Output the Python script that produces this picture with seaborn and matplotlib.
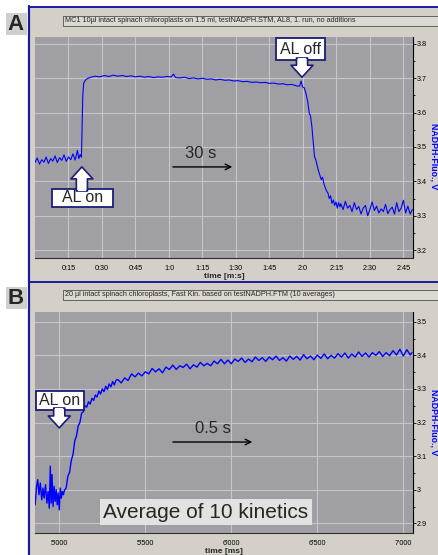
import matplotlib
matplotlib.use('Agg')
import matplotlib.pyplot as plt
from matplotlib.patches import Rectangle
from matplotlib.lines import Line2D
from matplotlib.ticker import MultipleLocator
import seaborn as sns

# -> DATA

# Panel A: slow kinetics, time in s, NADPH fluorescence in V
time_a = [0, 1, 2, 3, 4, 5, 6, 7, 8, 9, 10, 11, 12, 13, 14, 15, 16, 17, 18, 19, 19.6, 20.2, 20.8,
          21.1, 21.4, 21.8, 22.5, 23.5,
          25, 27, 29, 31, 33, 35, 37, 39, 41, 43, 45, 47, 49, 51, 53, 55, 57, 59, 61, 62, 63,
          65, 67, 69, 71, 73, 75, 77, 79, 81, 83, 85, 87, 89, 91, 93, 95, 97, 99, 101, 103,
          105, 107, 109, 111, 113, 115, 117, 118.5, 119.2, 119.8, 120.6,
          121.4, 122.2, 122.8, 123.4, 124, 124.6, 125.2, 125.8, 126.4, 127, 127.6, 128.2, 128.8,
          129.4, 130, 130.6, 131.2, 131.8, 132.4, 133, 133.6, 134.2, 134.8, 135.4, 136, 136.6,
          137, 138, 139, 140, 141, 142, 143, 144, 145, 146, 147, 148, 149, 150, 151, 152, 153,
          154, 155, 156, 157, 158, 159, 160, 161, 162, 163, 164, 165, 166, 167, 168, 169]
fluo_a = [3.455, 3.468, 3.450, 3.463, 3.456, 3.471, 3.452, 3.466, 3.459, 3.474, 3.455, 3.469,
          3.461, 3.477, 3.458, 3.471, 3.463, 3.480, 3.462, 3.490, 3.466, 3.478, 3.470,
          3.560, 3.650, 3.685, 3.694, 3.699,
          3.703, 3.706, 3.704, 3.708, 3.705, 3.709, 3.706, 3.708, 3.705, 3.707, 3.704, 3.706,
          3.703, 3.705, 3.702, 3.704, 3.703, 3.705, 3.704, 3.712, 3.702,
          3.701, 3.703, 3.699, 3.701, 3.698, 3.700, 3.697, 3.698, 3.695, 3.697, 3.694, 3.695,
          3.692, 3.693, 3.690, 3.691, 3.688, 3.689, 3.687, 3.688,
          3.685, 3.686, 3.683, 3.684, 3.681, 3.682, 3.678, 3.677, 3.692, 3.675, 3.672,
          3.655, 3.630, 3.600, 3.590, 3.560, 3.515, 3.472, 3.462, 3.445, 3.430, 3.418, 3.405,
          3.412, 3.393, 3.382, 3.372, 3.366, 3.350, 3.358, 3.336, 3.346, 3.330, 3.340, 3.322,
          3.338, 3.326,
          3.335, 3.318, 3.342, 3.322, 3.330, 3.312, 3.338, 3.318, 3.327, 3.305, 3.322, 3.330,
          3.300, 3.318, 3.340, 3.315, 3.328, 3.308, 3.320, 3.312, 3.333, 3.306, 3.318, 3.325,
          3.305, 3.338, 3.312, 3.322, 3.345, 3.308, 3.328, 3.305, 3.318]

# Panel B: fast kinetics (average of 10), time in ms
time_b = [4860, 4868, 4875, 4882, 4890, 4898, 4905, 4912, 4920, 4928, 4935, 4942, 4948, 4953,
          4958, 4964, 4970, 4976, 4982, 4988, 4994, 5000, 5006, 5012, 5018, 5024,
          5030, 5040, 5050, 5060, 5070, 5080, 5090, 5100, 5110, 5120, 5130, 5140, 5150, 5160,
          5170, 5180, 5190, 5200, 5210, 5220, 5230, 5240, 5250, 5260, 5270, 5280, 5290, 5300,
          5310, 5320, 5330,
          5340, 5360, 5380, 5400, 5420, 5440, 5460, 5480, 5500, 5520, 5540, 5560, 5580, 5600,
          5620, 5640, 5660, 5680, 5700, 5720, 5740, 5760, 5780, 5800, 5820, 5840, 5860, 5880,
          5900, 5920, 5940, 5960, 5980, 6000, 6020, 6040, 6060, 6080, 6100, 6120, 6140, 6160,
          6180, 6200, 6220, 6240, 6260, 6280, 6300, 6320, 6340, 6360, 6380, 6400, 6420, 6440,
          6460, 6480, 6500, 6520, 6540, 6560, 6580, 6600, 6620, 6640, 6660, 6680, 6700, 6720,
          6740, 6760, 6780, 6800, 6820, 6840, 6860, 6880, 6900, 6920, 6940, 6960, 6980, 7000,
          7020, 7040, 7050]
fluo_b = [2.955, 3.010, 3.030, 2.985, 3.020, 2.970, 3.005, 2.975, 3.015, 2.960, 2.995, 2.945,
          3.070, 2.960, 3.045, 2.950, 3.010, 2.965, 3.000, 2.955, 2.990, 2.940, 3.005, 2.975,
          2.995, 2.985,
          2.998, 3.005, 3.040, 3.052, 3.088, 3.105, 3.145, 3.160, 3.190, 3.200, 3.228, 3.232,
          3.250, 3.246, 3.262, 3.255, 3.272, 3.266, 3.282, 3.276, 3.294, 3.285, 3.300, 3.292,
          3.308, 3.298, 3.315, 3.306, 3.322, 3.312, 3.326,
          3.328, 3.318, 3.333, 3.325, 3.345, 3.336, 3.347, 3.339, 3.351, 3.345, 3.361, 3.351,
          3.360, 3.348, 3.365, 3.358, 3.371, 3.358, 3.369, 3.364, 3.374, 3.360, 3.372, 3.365,
          3.379, 3.369, 3.376, 3.369, 3.383, 3.375, 3.388, 3.375, 3.386, 3.375, 3.389, 3.382,
          3.392, 3.379, 3.389, 3.381, 3.395, 3.385, 3.393, 3.382, 3.395, 3.387, 3.398, 3.385,
          3.393, 3.383, 3.398, 3.388, 3.397, 3.386, 3.402, 3.390, 3.398, 3.387, 3.401, 3.391,
          3.404, 3.390, 3.400, 3.392, 3.405, 3.395, 3.407, 3.392, 3.404, 3.395, 3.410, 3.397,
          3.407, 3.395, 3.408, 3.400, 3.411, 3.397, 3.408, 3.399, 3.414, 3.401, 3.418, 3.398,
          3.417, 3.401, 3.408]

# tick labels
ticks_a = [15, 30, 45, 60, 75, 90, 105, 120, 135, 150, 165]
ticklabels_a = ['0:15', '0:30', '0:45', '1:0', '1:15', '1:30', '1:45', '2:0', '2:15', '2:30', '2:45']
yticks_a = [3.2, 3.3, 3.4, 3.5, 3.6, 3.7, 3.8]
yticklabels_a = ['3.2', '3.3', '3.4', '3.5', '3.6', '3.7', '3.8']
ticks_b = [5000, 5500, 6000, 6500, 7000]
ticklabels_b = ["5'000", "5'500", "6'000", "6'500", "7'000"]
yticks_b = [2.9, 3.0, 3.1, 3.2, 3.3, 3.4, 3.5]
yticklabels_b = ['2.9', '3', '3.1', '3.2', '3.3', '3.4', '3.5']

title_a = 'MC1 10µl intact spinach chloroplasts on 1.5 ml, testNADPH.STM, AL8, 1. run, no additions'
title_b = '20 µl intact spinach chloroplasts, Fast Kin. based on testNADPH.FTM (10 averages)'

# -> FIGURE

W, H = 439, 555
sns.set_style('white')
plt.rcParams['font.family'] = ['Liberation Sans', 'DejaVu Sans']

fig = plt.figure(figsize=(W / 100, H / 100), dpi=100)
fig.patch.set_facecolor('#d4d0c8')

NAVY = '#1a1a9a'
EDGE = '#1c1c78'


def fbox(x, y, w, h):
    # pixel box (top-left origin) -> figure fraction (left, bottom, width, height)
    return (x / W, 1 - (y + h) / H, w / W, h / H)


def rect(x, y, w, h, **kw):
    l, b, ww, hh = fbox(x, y, w, h)
    fig.add_artist(Rectangle((l, b), ww, hh, transform=fig.transFigure, **kw))


def hline(x0, x1, y, **kw):
    fig.add_artist(Line2D([x0 / W, x1 / W], [1 - y / H, 1 - y / H], transform=fig.transFigure, **kw))


# white margins, window frame
rect(0, 0, 28, H, fc='white', ec='none')
rect(0, 0, W, 6, fc='white', ec='none')
fig.add_artist(Line2D([29 / W, 29 / W], [0, 1 - 6 / H], transform=fig.transFigure, color=NAVY, lw=1.6))
hline(29, W, 7, color=NAVY, lw=1.4)
hline(29, W, 282, color=NAVY, lw=1.4)

# panel letters
for letter, ytop in [('A', 13), ('B', 287)]:
    rect(6, ytop, 21, 22, fc='#cfcfcf', ec='none')
    fig.text(16 / W, 1 - (ytop + 11) / H, letter, fontsize=16, fontweight='bold',
             ha='center', va='center')

# title boxes
for title, ytop in [(title_a, 16), (title_b, 290)]:
    rect(63, ytop, 380, 10, fc='#dcd9d2', ec='#505050', lw=0.6)
    fig.text(65 / W, 1 - (ytop + 5) / H, title, fontsize=5.2, va='center', ha='left')


def style_panel(ax, xlim, ylim, xt, xtl, xminor, yt, ytl, xlabel, ylab_y):
    ax.set_facecolor('#a0a0a4')
    ax.set_xlim(*xlim)
    ax.set_ylim(*ylim)
    ax.set_xticks(xt)
    ax.set_xticklabels(xtl)
    ax.xaxis.set_minor_locator(MultipleLocator(xminor))
    ax.set_yticks(yt)
    ax.set_yticklabels(ytl)
    ax.yaxis.set_minor_locator(MultipleLocator(0.05))
    ax.yaxis.tick_right()
    for s in ['left', 'top']:
        ax.spines[s].set_visible(False)
    ax.spines['right'].set_color('black')
    ax.spines['right'].set_linewidth(0.8)
    ax.spines['bottom'].set_color('#303030')
    ax.spines['bottom'].set_linewidth(0.8)
    ax.grid(True, which='major', color='#c6c6ca', lw=0.8)
    ax.tick_params(which='both', direction='out', colors='black', labelsize=5.2,
                   length=3, width=0.6, pad=2)
    ax.tick_params(axis='y', which='both', length=2, pad=1)
    ax.tick_params(which='minor', length=1.6)
    ax.set_xlabel(xlabel, fontsize=6, fontweight='bold', labelpad=1)
    ax.set_ylabel('NADPH-Fluo., V', color='blue', fontsize=6.3, fontweight='bold',
                  rotation=-90, va='center', ha='center')
    ax.yaxis.set_label_coords((433.5 - 35) / 378, ylab_y)


def ffrac(x, y):
    return (x / W, 1 - y / H)


def callout(ax, label, t, v, box, up):
    # white label box with a hollow arrow pointing at (t, v)
    x0, y0, x1, y1 = box
    X, Y = ax.transData.transform((t, v))
    ax.add_patch(Rectangle(ffrac(x0, y1), (x1 - x0) / W, (y1 - y0) / H, transform=fig.transFigure,
                           fc='white', ec=EDGE, lw=1.3, zorder=4, clip_on=False))
    edge = y0 if up else y1
    base = edge + 2 if up else edge - 2
    ax.annotate('', xy=(t, v), xytext=(X / W, 1 - base / H), textcoords='figure fraction',
                arrowprops=dict(arrowstyle='simple,head_length=0.86,head_width=1.58,tail_width=0.8',
                                fc='white', ec=EDGE, lw=1.2, mutation_scale=10,
                                shrinkA=0, shrinkB=0), zorder=5)
    ax.add_patch(Rectangle(ffrac(X - 4.2, edge + 2.2), 8.4 / W, 4.4 / H, transform=fig.transFigure,
                           fc='white', ec='none', zorder=6, clip_on=False))
    ax.text((x0 + x1) / 2 / W, 1 - (y0 + y1) / 2 / H, label, transform=fig.transFigure,
            fontsize=11.5, ha='center', va='center', zorder=7)


# Panel A
ax_a = fig.add_axes(fbox(35, 37, 378, 221))
sns.lineplot(x=time_a, y=fluo_a, ax=ax_a, color='#0000ff', lw=0.8, estimator=None, sort=False)
style_panel(ax_a, (0, 169.3), (3.177, 3.82), ticks_a, ticklabels_a, 3, yticks_a, yticklabels_a,
            'time [m:s]', 0.46)
callout(ax_a, 'AL on', 21.0, 3.442, (52, 189, 113, 207), True)
callout(ax_a, 'AL off', 119.6, 3.703, (276, 38, 325, 60), False)
ax_a.text(74, 3.48, '30 s', fontsize=12, ha='center', va='center')
ax_a.annotate('', xy=(89.6, 3.442), xytext=(60.5, 3.442),
              arrowprops=dict(arrowstyle='->', color='black', lw=1))

# Panel B
ax_b = fig.add_axes(fbox(35, 311.7, 378, 221))
sns.lineplot(x=time_b, y=fluo_b, ax=ax_b, color='#0000ff', lw=1.0, estimator=None, sort=False)
style_panel(ax_b, (4859, 7056), (2.872, 3.53), ticks_b, ticklabels_b, 100, yticks_b, yticklabels_b,
            'time [ms]', 0.5)
callout(ax_b, 'AL on', 5000, 3.184, (36, 391, 84, 410), False)
ax_b.text(5894, 3.183, '0.5 s', fontsize=12, ha='center', va='center')
ax_b.annotate('', xy=(6138, 3.142), xytext=(5644, 3.142),
              arrowprops=dict(arrowstyle='->', color='black', lw=1))
ax_b.add_patch(Rectangle(ffrac(100, 525), 212 / W, 26 / H, transform=fig.transFigure,
                         fc='#e2e2e2', ec='none', zorder=4))
ax_b.text(206 / W, 1 - 512 / H, 'Average of 10 kinetics', transform=fig.transFigure,
          fontsize=15, ha='center', va='center', zorder=5)

fig.savefig('out.png', dpi=100)
